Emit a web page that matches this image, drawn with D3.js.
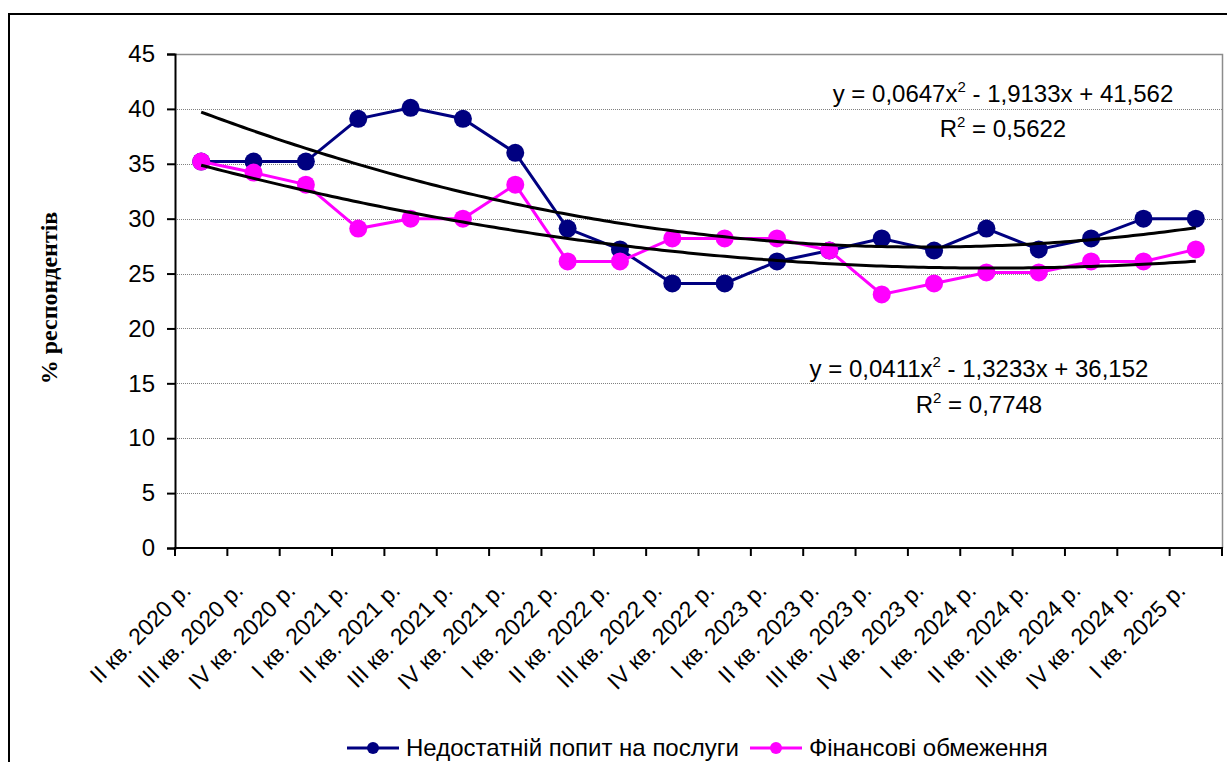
<!DOCTYPE html>
<html>
<head>
<meta charset="utf-8">
<script src="https://cdn.jsdelivr.net/npm/d3@7"></script>
<style>
  html, body { margin: 0; padding: 0; background: #fff; }
  svg { display: block; }
</style>
</head>
<body>
<svg id="chart" width="1227" height="762"></svg>
<script>
// Quarters on the x axis
const quarters = [
  "II кв. 2020 р.", "III кв. 2020 р.", "IV кв. 2020 р.",
  "I кв. 2021 р.", "II кв. 2021 р.", "III кв. 2021 р.", "IV кв. 2021 р.",
  "I кв. 2022 р.", "II кв. 2022 р.", "III кв. 2022 р.", "IV кв. 2022 р.",
  "I кв. 2023 р.", "II кв. 2023 р.", "III кв. 2023 р.", "IV кв. 2023 р.",
  "I кв. 2024 р.", "II кв. 2024 р.", "III кв. 2024 р.", "IV кв. 2024 р.",
  "I кв. 2025 р."
];

// Share of respondents, %
const insufficientDemand = [35.2, 35.2, 35.2, 39.1, 40.1, 39.1, 36.0, 29.1, 27.2, 24.1,
                            24.1, 26.1, 27.1, 28.2, 27.1, 29.1, 27.2, 28.2, 30.0, 30.0];
const financialLimits    = [35.2, 34.2, 33.1, 29.1, 30.0, 30.0, 33.1, 26.1, 26.1, 28.2,
                            28.2, 28.2, 27.1, 23.1, 24.1, 25.1, 25.1, 26.1, 26.1, 27.2];

// Polynomial (2nd order) trend coefficients [a, b, c] for y = a·x² + b·x + c
const trendDemand  = [0.0647, -1.9133, 41.562];
const trendFinance = [0.0411, -1.3233, 36.152];
const r2Values = [0.5622, 0.7748];

const yTicks = [0, 5, 10, 15, 20, 25, 30, 35, 40, 45];

const seriesNames = ["Недостатній попит на послуги", "Фінансові обмеження"];
const colors = ["#000080", "#FF00FF"];

const FONT = "Liberation Sans, Arial, sans-serif";

const svg = d3.select("#chart");
const plot = { left: 175, right: 1222, top: 54, bottom: 548 };

// outer frame (runs off the right and bottom of the canvas)
svg.append("path")
  .attr("d", "M9,770 L9,14 L1240,14")
  .attr("fill", "none").attr("stroke", "#000").attr("stroke-width", 2);

const x = d3.scaleBand().domain(quarters).range([plot.left, plot.right]).padding(0);
const y = d3.scaleLinear().domain([0, 45]).range([plot.bottom, plot.top]);
const cx = i => x(quarters[i]) + x.bandwidth() / 2;
// continuous position for a 1-based category index (used by trend curves)
const xIndex = d3.scaleLinear()
  .domain([1, quarters.length])
  .range([cx(0), cx(quarters.length - 1)]);

// gridlines
svg.append("g").selectAll("line")
  .data(yTicks.filter(t => t > 0 && t < 45))
  .join("line")
  .attr("x1", plot.left).attr("x2", plot.right)
  .attr("y1", d => Math.round(y(d)) + 0.5).attr("y2", d => Math.round(y(d)) + 0.5)
  .attr("stroke", "#808080").attr("stroke-width", 1)
  .attr("stroke-dasharray", "1,1");

// plot-area top and right border
svg.append("path")
  .attr("d", `M${plot.left},${y(45) + 0.5} H${plot.right + 0.5} V${plot.bottom}`)
  .attr("fill", "none").attr("stroke", "#8c8c8c").attr("stroke-width", 1.5);

// y axis
const yAxis = svg.append("g")
  .attr("transform", `translate(${plot.left},0)`)
  .call(d3.axisLeft(y).tickValues(yTicks).tickSize(8).tickPadding(12).tickFormat(d3.format("d")));
yAxis.select(".domain").attr("stroke", "#000").attr("stroke-width", 2);
yAxis.selectAll(".tick line").attr("stroke", "#000").attr("stroke-width", 2);
yAxis.selectAll(".tick text")
  .attr("font-family", FONT)
  .attr("font-size", 24).attr("fill", "#000");

// x axis: ticks on category boundaries
const xAxisG = svg.append("g").attr("transform", `translate(0,${plot.bottom})`);
xAxisG.append("line")
  .attr("x1", plot.left - 1).attr("x2", plot.right + 1)
  .attr("y1", 0).attr("y2", 0)
  .attr("stroke", "#000").attr("stroke-width", 2);
const boundaries = quarters.map(q => x(q)).concat([plot.right]);
xAxisG.selectAll("line.tk")
  .data(boundaries)
  .join("line").attr("class", "tk")
  .attr("x1", d => d).attr("x2", d => d)
  .attr("y1", 0).attr("y2", 8)
  .attr("stroke", "#000").attr("stroke-width", 2);

// rotated category labels
xAxisG.selectAll("text")
  .data(quarters)
  .join("text")
  .attr("transform", (d, i) => `translate(${cx(i) - 9},${44}) rotate(-45)`)
  .attr("text-anchor", "end")
  .attr("font-family", FONT)
  .attr("font-size", 23)
  .attr("fill", "#000")
  .text(d => d);

// y axis title
svg.append("text")
  .attr("transform", "translate(57,298) rotate(-90)")
  .attr("text-anchor", "middle")
  .attr("font-family", "Liberation Serif, Times New Roman, serif")
  .attr("font-weight", "bold")
  .attr("font-size", 24)
  .attr("fill", "#000")
  .text("%  респондентів");

// data series
const line = d3.line().x((d, i) => cx(i)).y(d => y(d));
[insufficientDemand, financialLimits].forEach((vals, k) => {
  const g = svg.append("g");
  g.append("path")
    .attr("d", line(vals))
    .attr("fill", "none").attr("stroke", colors[k]).attr("stroke-width", 3);
  g.selectAll("circle")
    .data(vals)
    .join("circle")
    .attr("cx", (d, i) => cx(i)).attr("cy", d => y(d))
    .attr("r", 9).attr("fill", colors[k]);
});

// trend curves, evaluated over the category index 1..20
const trendLine = d3.line().x(d => xIndex(d[0])).y(d => y(d[1]));
[trendDemand, trendFinance].forEach(([a, b, c]) => {
  const pts = d3.range(1, quarters.length + 0.001, 0.1).map(t => [t, a * t * t + b * t + c]);
  svg.append("path")
    .attr("d", trendLine(pts))
    .attr("fill", "none").attr("stroke", "#000").attr("stroke-width", 3);
});

// trend equations
function fmt(v, digits) { return v.toFixed(digits).replace(".", ","); }
function equation(g, coef, r2, cxText, yEq, yR2) {
  const [a, b, c] = coef;
  const t = g.append("text")
    .attr("x", cxText).attr("y", yEq).attr("text-anchor", "middle")
    .attr("font-family", FONT)
    .attr("font-size", 24).attr("fill", "#000");
  t.append("tspan").text(`y = ${fmt(a, 4)}x`);
  t.append("tspan").attr("dy", -10).attr("font-size", 15).text("2");
  t.append("tspan").attr("dy", 10).text(` - ${fmt(Math.abs(b), 4)}x + ${fmt(c, 3)}`);
  const r = g.append("text")
    .attr("x", cxText).attr("y", yR2).attr("text-anchor", "middle")
    .attr("font-family", FONT)
    .attr("font-size", 24).attr("fill", "#000");
  r.append("tspan").text("R");
  r.append("tspan").attr("dy", -10).attr("font-size", 15).text("2");
  r.append("tspan").attr("dy", 10).text(` = ${fmt(r2, 4)}`);
}
const eqG = svg.append("g");
equation(eqG, trendDemand, r2Values[0], 1003, 102, 137);
equation(eqG, trendFinance, r2Values[1], 979, 377, 413);

// legend
const legend = svg.append("g").attr("transform", "translate(0,748)");
const legendItems = [{ x: 347, w: 52 }, { x: 750, w: 52 }];
legendItems.forEach((it, k) => {
  legend.append("line")
    .attr("x1", it.x).attr("x2", it.x + it.w).attr("y1", 0).attr("y2", 0)
    .attr("stroke", colors[k]).attr("stroke-width", 3);
  legend.append("circle")
    .attr("cx", it.x + it.w / 2).attr("cy", 0).attr("r", 6).attr("fill", colors[k]);
  legend.append("text")
    .attr("x", it.x + it.w + 7).attr("y", 0).attr("dy", "0.35em")
    .attr("font-family", FONT)
    .attr("font-size", 24).attr("fill", "#000")
    .text(seriesNames[k]);
});
</script>
</body>
</html>
